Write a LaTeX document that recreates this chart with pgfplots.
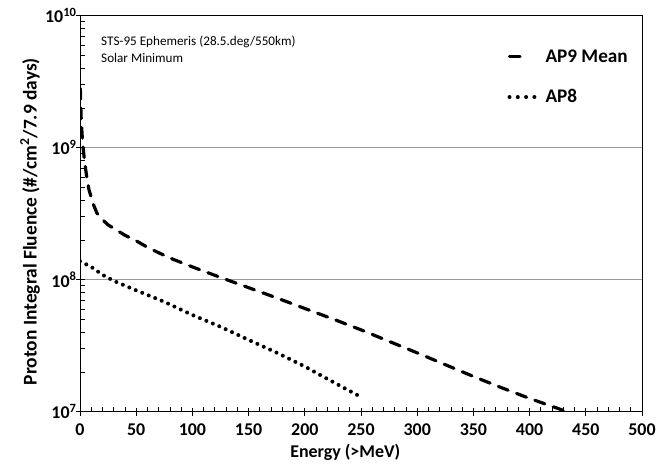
\documentclass[border=0pt]{standalone}
\usepackage{fontspec}
\setmainfont{Carlito}
\usepackage{pgfplots}
\pgfplotsset{compat=1.18}

\begin{document}
\begin{tikzpicture}
\begin{axis}[
  name=ax,
  scale only axis, width=562bp, height=396bp,
  xmin=0, xmax=500, ymin=1e7, ymax=1e10, ymode=log,
  xtick={0,50,...,500},
  xticklabels={0,50,100,150,200,250,300,350,400,450,500},
  minor x tick num=4,
  yticklabels={10\textsuperscript{7},10\textsuperscript{8},10\textsuperscript{9},10\textsuperscript{10}},
  ticklabel style={font=\bfseries\fontsize{18}{20}\selectfont},
  xticklabel style={anchor=north, yshift=-8.5bp},
  /pgf/number format/assume math mode=true,
  xtick pos=bottom, ytick pos=left,
  tick align=inside,
  major tick length=8bp, minor tick length=5bp,
  every major x tick/.append style={yshift=-4bp},
  every major y tick/.append style={xshift=-4bp},
  tick style={black, line width=0.8bp},
  axis line style={black, line width=0.9bp},
  ymajorgrids, major grid style={gray!80, line width=0.8bp},
  xlabel={Energy (>MeV)},
  ylabel={Proton Integral Fluence (\#/cm\textsuperscript{2}/7.9 days)},
  every axis x label/.style={at={(axis description cs:0.472,-0.103)}, anchor=center,
    font=\bfseries\fontsize{18}{20}\selectfont},
  every axis y label/.style={at={(axis description cs:-0.089,0.48)}, anchor=center, rotate=90,
    font=\bfseries\fontsize{19.5}{22}\selectfont},
  legend style={at={(rel axis cs:0.755,0.925)}, anchor=north west, draw=none, fill=none,
    font=\bfseries\fontsize{19.3}{22}\selectfont, row sep=22bp,
    /tikz/every odd column/.append style={column sep=6bp}},
  legend cell align=left,
]
\addplot[black, line width=3.2bp, line cap=round, dash pattern=on 10.5bp off 9bp,
  legend image code/.code={\draw[black, line width=3.2bp] (0bp,0bp) -- (13bp,0bp); \path (26bp,0bp);}]
  coordinates {
  (0.3,2.8e9) (0.6,2.2e9) (1,1.7e9) (2,1.2e9) (3,9.6e8) (4,8.0e8) (5,6.9e8) (6,6.0e8)
  (8,4.8e8) (10,4.2e8) (12,3.7e8) (15,3.2e8) (20,2.85e8) (25,2.6e8) (30,2.45e8)
  (40,2.17e8) (50,1.97e8) (60,1.76e8) (70,1.6e8) (80,1.46e8) (90,1.35e8) (100,1.25e8)
  (125,1.04e8) (150,8.7e7) (175,7.28e7) (200,6.05e7) (225,5.04e7) (250,4.17e7)
  (275,3.41e7) (300,2.79e7) (325,2.27e7) (350,1.85e7) (375,1.52e7) (400,1.26e7)
  (425,1.06e7) (433,1.0e7)
  };
\addlegendentry{AP9 Mean}
\addplot[black, line width=4bp, line cap=round, dash pattern=on 0bp off 7bp,
  legend image code/.code={\draw[black, line width=4bp, line cap=round, dash pattern=on 0bp off 8.3bp] (0bp,0bp) -- (26bp,0bp);}]
  coordinates {
  (0,1.38e8) (10,1.25e8) (20,1.09e8) (30,9.8e7) (50,8.3e7) (75,6.8e7) (100,5.4e7)
  (125,4.4e7) (150,3.5e7) (175,2.8e7) (200,2.2e7) (225,1.68e7) (248,1.32e7)
  };
\addlegendentry{AP8}
\node[anchor=north west, align=left, inner sep=0pt, font=\fontsize{13.2}{16.5}\selectfont]
  at (rel axis cs:0.0374,0.949) {STS-95 Ephemeris (28.5.deg/550km)\\Solar Minimum};
\end{axis}
\path (ax.south west) ++(-80bp,-53.3bp) rectangle ([shift={(23bp,15.7bp)}]ax.north east);
\end{tikzpicture}
\end{document}
